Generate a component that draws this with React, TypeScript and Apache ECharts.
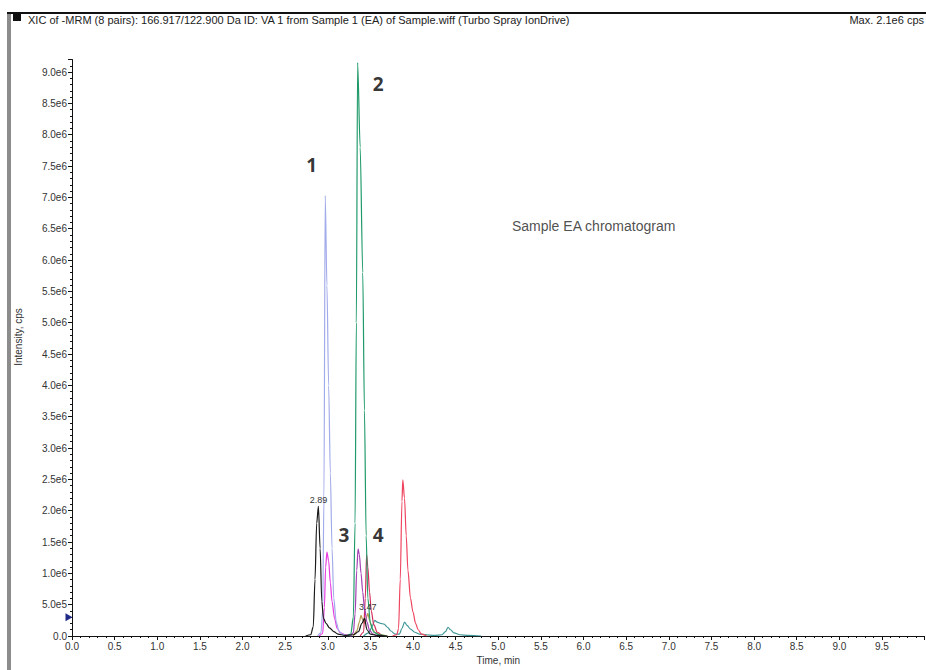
import React, { useEffect, useRef } from "react";
import * as echarts from "echarts";

// Retention times (min) and intensities (millions of cps) for each MRM trace
const blackTime = [2.74, 2.8, 2.83, 2.85, 2.87, 2.89, 2.91, 2.93, 2.95, 2.98, 3.02, 3.07, 3.12, 3.2, 3.3, 3.36, 3.4, 3.43, 3.46, 3.5, 3.58, 3.7];
const blackMcps = [0, 0.02, 0.15, 0.9, 1.8, 2.07, 1.4, 0.55, 0.28, 0.2, 0.13, 0.07, 0.03, 0.01, 0.02, 0.07, 0.2, 0.28, 0.1, 0.03, 0.01, 0];

const blueTime = [2.88, 2.92, 2.94, 2.955, 2.97, 2.99, 3.01, 3.03, 3.05, 3.07, 3.1, 3.13, 3.17, 3.22, 3.28];
const blueMcps = [0, 0.05, 0.4, 2.2, 7.03, 5.6, 4.0, 2.6, 1.4, 0.6, 0.22, 0.08, 0.03, 0.01, 0];

const greenTime = [3.22, 3.27, 3.3, 3.32, 3.335, 3.35, 3.38, 3.41, 3.43, 3.45, 3.47, 3.5, 3.54, 3.6, 3.68];
const greenMcps = [0, 0.03, 0.3, 1.8, 5.0, 9.15, 7.8, 5.8, 3.6, 1.6, 0.6, 0.2, 0.06, 0.02, 0];

const magentaTime = [2.9, 2.94, 2.96, 2.975, 2.99, 3.01, 3.03, 3.05, 3.08, 3.11, 3.15, 3.2, 3.28];
const magentaMcps = [0, 0.04, 0.45, 1.1, 1.34, 1.2, 0.85, 0.55, 0.28, 0.12, 0.05, 0.02, 0];

const purpleTime = [3.26, 3.3, 3.32, 3.34, 3.355, 3.37, 3.39, 3.41, 3.43, 3.46, 3.49, 3.53, 3.58];
const purpleMcps = [0, 0.05, 0.35, 1.05, 1.39, 1.3, 1.0, 0.7, 0.45, 0.22, 0.09, 0.03, 0];

const crimsonTime = [3.38, 3.42, 3.44, 3.455, 3.47, 3.49, 3.51, 3.54, 3.58, 3.64];
const crimsonMcps = [0, 0.06, 0.6, 1.3, 1.1, 0.7, 0.4, 0.18, 0.06, 0];

const redTime = [3.76, 3.81, 3.83, 3.85, 3.87, 3.88, 3.9, 3.92, 3.94, 3.97, 4.0, 4.03, 4.06, 4.1, 4.16];
const redMcps = [0, 0.02, 0.12, 0.9, 2.15, 2.49, 2.2, 1.6, 1.05, 0.6, 0.38, 0.2, 0.1, 0.03, 0];

const tealTime = [3.42, 3.48, 3.52, 3.55, 3.58, 3.62, 3.66, 3.7, 3.74, 3.79, 3.84, 3.87, 3.9, 3.93, 3.97, 4.02, 4.08, 4.15, 4.25, 4.34, 4.38, 4.41, 4.44, 4.48, 4.55, 4.65, 4.8];
const tealMcps = [0, 0.05, 0.15, 0.25, 0.22, 0.2, 0.19, 0.14, 0.08, 0.03, 0.03, 0.12, 0.22, 0.17, 0.11, 0.06, 0.03, 0.02, 0.01, 0.02, 0.07, 0.14, 0.1, 0.05, 0.02, 0.01, 0];

const oliveTime = [3.3, 3.34, 3.37, 3.39, 3.41, 3.43, 3.45, 3.47, 3.49, 3.52, 3.56, 3.62, 3.7];
const oliveMcps = [0, 0.08, 0.22, 0.33, 0.26, 0.2, 0.28, 0.36, 0.25, 0.12, 0.05, 0.02, 0];

// Peak numbers and the caption placed in data space
const noteText = ["1", "2", "3", "4"];
const noteTime = [2.81, 3.59, 3.19, 3.59];
const noteMcps = [7.52, 8.81, 1.61, 1.61];
const captionText = "Sample EA chromatogram";
const captionTime = 5.16;
const captionMcps = 6.54;

// Start marker on the intensity axis
const markerMcps = 0.3;

const xTickStep = 0.5;
const yTickStep = 0.5e6;

const M = 1e6;
const FONT = "'Liberation Sans', Arial, sans-serif";

const toPairs = (t: number[], m: number[]) => t.map((x, i) => [x, m[i] * M]);

const apexOf = (t: number[], m: number[]) => {
  let k = 0;
  m.forEach((v, i) => {
    if (v > m[k]) k = i;
  });
  return [t[k], m[k] * M];
};

const fmtIntensity = (v: number) => {
  if (v === 0) return "0.0";
  const e = Math.floor(Math.log10(v) + 1e-9);
  const mant = v / Math.pow(10, e);
  return `${mant.toFixed(1)}e${e}`;
};

const traces = [
  { name: "trace-olive", color: "#b59a4e", time: oliveTime, mcps: oliveMcps, apexLabel: true },
  { name: "trace-teal", color: "#3f9696", time: tealTime, mcps: tealMcps },
  { name: "trace-red", color: "#ef4560", time: redTime, mcps: redMcps },
  { name: "trace-crimson", color: "#d42f5c", time: crimsonTime, mcps: crimsonMcps },
  { name: "trace-magenta", color: "#e63ce0", time: magentaTime, mcps: magentaMcps },
  { name: "trace-purple", color: "#a43fb4", time: purpleTime, mcps: purpleMcps },
  { name: "trace-blue", color: "#a3acea", time: blueTime, mcps: blueMcps },
  { name: "trace-green", color: "#1f9a6a", time: greenTime, mcps: greenMcps },
  { name: "trace-black", color: "#1a1a1a", time: blackTime, mcps: blackMcps, apexLabel: true, marker: true },
];

export default function App() {
  const ref = useRef<HTMLDivElement>(null);

  useEffect(() => {
    if (!ref.current) return;
    const chart = echarts.init(ref.current, null, { renderer: "svg" });

    const lineSeries = traces.map((tr: any) => {
      const markData: any[] = [];
      if (tr.apexLabel) {
        const apex = apexOf(tr.time, tr.mcps);
        markData.push({
          coord: apex,
          value: apex[0].toFixed(2),
          symbol: "circle",
          symbolSize: 0,
          label: {
            show: true,
            position: "top",
            distance: 2,
            formatter: "{c}",
            fontSize: 9,
            color: "#333",
            fontFamily: FONT,
          },
        });
      }
      if (tr.marker) {
        markData.push({
          coord: [0, markerMcps * M],
          symbol: "triangle",
          symbolRotate: -90,
          symbolSize: [8, 7],
          symbolOffset: [-3, 0],
          itemStyle: { color: "#202a86" },
          label: { show: false },
        });
      }
      return {
        type: "line",
        name: tr.name,
        data: toPairs(tr.time, tr.mcps),
        showSymbol: false,
        symbol: "none",
        smooth: 0.3,
        smoothMonotone: "x",
        lineStyle: { color: tr.color, width: 1.2 },
        itemStyle: { color: tr.color },
        emphasis: { disabled: true },
        markPoint: markData.length
          ? { silent: true, animation: false, data: markData }
          : undefined,
        z: 3,
      };
    });

    const noteData: any[] = noteText.map((s, i) => ({
      value: [noteTime[i], noteMcps[i] * M],
      name: s,
    }));
    noteData.push({
      value: [captionTime, captionMcps * M],
      name: captionText,
      label: {
        position: "right",
        distance: 0,
        fontSize: 14,
        fontWeight: "normal",
        color: "#222",
        fontFamily: FONT,
      },
    });

    chart.setOption({
      animation: false,
      backgroundColor: "#ffffff",
      grid: {
        left: 72,
        right: 1.4,
        top: 59.5,
        bottom: 34,
        containLabel: false,
        outerBoundsMode: "none",
      },
      xAxis: {
        type: "value",
        min: 0,
        max: 10,
        interval: xTickStep,
        name: "Time, min",
        nameLocation: "middle",
        nameGap: 19,
        nameTextStyle: { fontSize: 10, color: "#333", fontFamily: FONT },
        axisLine: { show: true, lineStyle: { color: "#111", width: 1 } },
        axisTick: { show: true, length: 4, lineStyle: { color: "#111" } },
        minorTick: { show: true, splitNumber: 5, length: 2, lineStyle: { color: "#111" } },
        splitLine: { show: false },
        axisLabel: {
          fontSize: 10,
          color: "#333",
          fontFamily: FONT,
          margin: 5,
          showMaxLabel: false,
          formatter: (v: number) => v.toFixed(1),
        },
      },
      yAxis: {
        type: "value",
        min: 0,
        max: 9.2e6,
        interval: yTickStep,
        axisLine: { show: true, lineStyle: { color: "#111", width: 1 } },
        axisTick: { show: true, length: 4, lineStyle: { color: "#111" } },
        minorTick: { show: true, splitNumber: 5, length: 2, lineStyle: { color: "#111" } },
        splitLine: { show: false },
        axisLabel: {
          fontSize: 10,
          color: "#333",
          fontFamily: FONT,
          margin: 5,
          showMaxLabel: false,
          formatter: fmtIntensity,
        },
      },
      series: [
        ...lineSeries,
        {
          type: "scatter",
          name: "notes",
          data: noteData,
          symbolSize: 0,
          silent: true,
          z: 5,
          label: {
            show: true,
            position: "inside",
            formatter: "{b}",
            fontSize: 19,
            fontWeight: "bold",
            color: "#000",
            fontFamily: "'Open Sans', 'Liberation Sans', sans-serif",
          },
        },
      ],
      graphic: [
        { type: "rect", left: 7, top: 12, shape: { width: 919, height: 2 }, style: { fill: "#111" }, silent: true },
        { type: "rect", left: 7, top: 14, shape: { width: 4, height: 656 }, style: { fill: "#8c8c8c" }, silent: true },
        { type: "rect", left: 13, top: 14, shape: { width: 8, height: 7 }, style: { fill: "#111" }, silent: true },
        {
          type: "text",
          left: 28,
          top: 14,
          silent: true,
          style: {
            text: "XIC of -MRM (8 pairs): 166.917/122.900 Da ID: VA 1 from Sample 1 (EA) of Sample.wiff (Turbo Spray IonDrive)",
            fontSize: 11,
            fontFamily: FONT,
            fill: "#222",
          },
        },
        {
          type: "text",
          right: 2,
          top: 14,
          silent: true,
          style: { text: "Max. 2.1e6 cps", fontSize: 11, fontFamily: FONT, fill: "#222" },
        },
        {
          type: "text",
          x: 18,
          y: 337,
          rotation: Math.PI / 2,
          silent: true,
          style: {
            text: "Intensity, cps",
            fontSize: 10,
            fontFamily: FONT,
            fill: "#333",
            align: "center",
            verticalAlign: "middle",
          },
        },
      ],
    });

    return () => chart.dispose();
  }, []);

  return (
    <div
      ref={ref}
      style={{ position: "fixed", left: 0, top: 0, width: 926, height: 670, background: "#fff" }}
    />
  );
}
